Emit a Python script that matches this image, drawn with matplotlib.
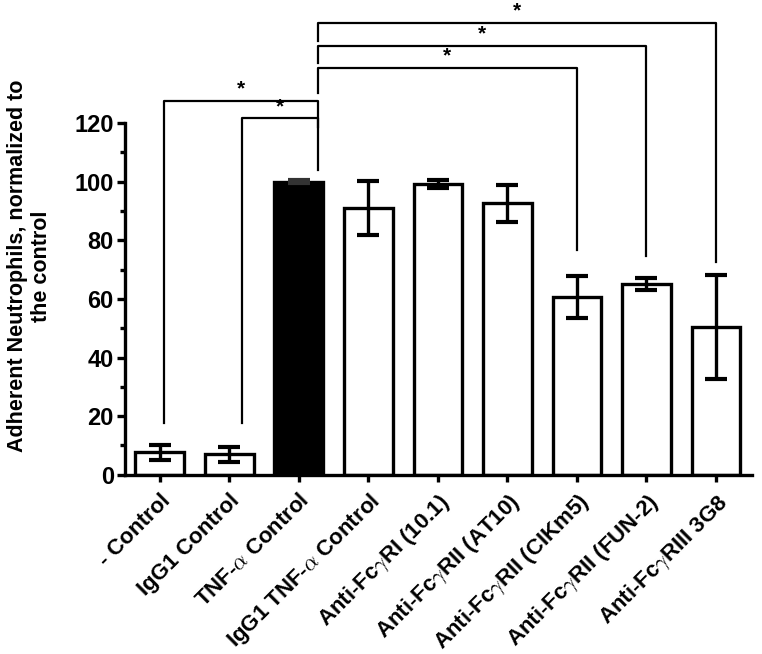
import matplotlib
matplotlib.use("Agg")
import matplotlib.pyplot as plt
import numpy as np

plt.rcParams['font.family'] = ['Liberation Sans', 'DejaVu Sans']
plt.rcParams['font.weight'] = 'bold'
plt.rcParams['mathtext.fontset'] = 'cm'

# data
labels = ["- Control", "IgG1 Control", r"TNF-$\alpha$ Control",
          r"IgG1 TNF-$\alpha$ Control", r"Anti-Fc$\gamma$RI (10.1)",
          r"Anti-Fc$\gamma$RII (AT10)", r"Anti-Fc$\gamma$RII (CIKm5)",
          r"Anti-Fc$\gamma$RII (FUN-2)", r"Anti-Fc$\gamma$RIII 3G8"]
means = [7.7, 7.0, 100.0, 90.9, 99.2, 92.6, 60.8, 65.0, 50.4]
errs = [2.6, 2.6, 0.5, 9.2, 1.5, 6.4, 7.2, 2.1, 17.7]
fills = ["white", "white", "black", "white", "white", "white", "white", "white", "white"]

# significance brackets: (left x, right x, top y, left leg bottom, right leg bottom)
brackets = [
    (0.06, 2.27, 127.6, 17.7, 118.8),
    (1.19, 2.27, 121.6, 17.7, 104.0),
    (2.27, 6.0, 138.9, 130.1, 76.7),
    (2.27, 7.0, 146.4, 140.6, 74.7),
    (2.27, 8.0, 154.2, 148.0, 72.7),
]

fig = plt.figure(figsize=(7.62, 6.54), dpi=100)
ax = fig.add_axes([0.164, 0.274, 0.823, 0.726])

x = np.arange(len(means))
ax.bar(x, means, width=0.7, color=fills, edgecolor="black", linewidth=2.4, zorder=2)
for i in range(len(means)):
    c = "#333333" if fills[i] == "black" else "black"
    ax.errorbar(x[i], means[i], yerr=errs[i], fmt="none", ecolor=c,
                elinewidth=2.4, capsize=8, capthick=3, zorder=3)

for x0, x1, y, yl, yr in brackets:
    ax.plot([x0, x0, x1, x1], [yl, y, y, yr], color="black", lw=1.6,
            clip_on=False, zorder=4)
    ax.text((x0 + x1) / 2, y + 0.8, "*", ha="center", va="bottom",
            fontsize=15, clip_on=False)

ax.set_xlim(-0.5, 8.52)
ax.set_ylim(0, 162)
ax.spines["top"].set_visible(False)
ax.spines["right"].set_visible(False)
ax.spines["left"].set_bounds(0, 120)
ax.spines["left"].set_linewidth(2.4)
ax.spines["bottom"].set_linewidth(2.4)

ax.set_yticks(np.arange(0, 121, 20))
ax.set_yticks(np.arange(10, 120, 20), minor=True)
ax.tick_params(axis="y", which="major", length=6, width=2.4, labelsize=17, pad=2)
ax.tick_params(axis="y", which="minor", length=3.5, width=2.4)
ax.set_xticks(x)
ax.set_xticklabels(labels, rotation=45, ha="right", rotation_mode="anchor",
                   fontsize=16)
ax.tick_params(axis="x", length=5, width=2.4, pad=6)

ax.set_ylabel("Adherent Neutrophils, normalized to\nthe control",
              fontsize=15.5, fontweight="bold", y=0.44, labelpad=16)

fig.savefig("out.png", dpi=100)
